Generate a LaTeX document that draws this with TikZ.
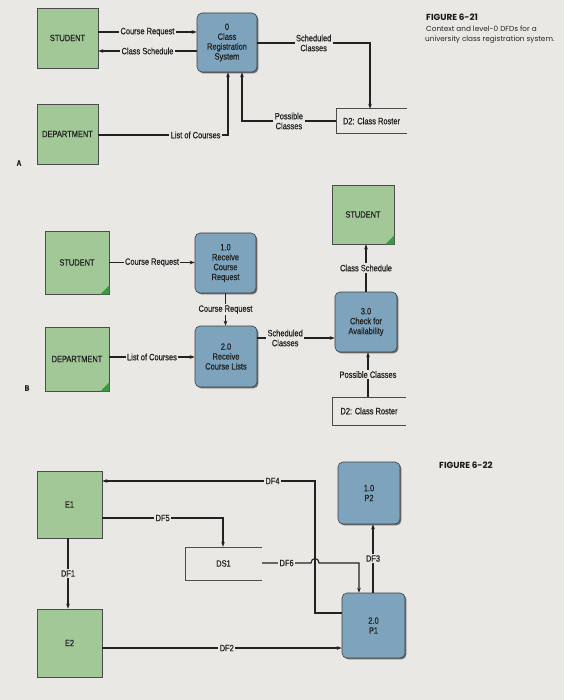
\documentclass[tikz,border=0pt]{standalone}
\usepackage{fontspec}
\setmainfont{Liberation Sans}[FakeStretch=0.82,FakeBold=0.6]
\newfontfamily\capfont{Poppins}
\usetikzlibrary{shadows,arrows.meta}
\definecolor{bgc}{HTML}{E9E8E4}
\definecolor{entc}{HTML}{A2C897}
\definecolor{procc}{HTML}{7DA4BC}
\definecolor{dkgreen}{HTML}{3C9A47}
\definecolor{ink}{HTML}{222222}
\begin{document}
\begin{tikzpicture}[x=1pt,y=-1pt,
  every node/.style={font=\fontsize{9.1}{9.9}\selectfont, text=ink},
  ent/.style={draw=black!70, line width=0.6pt, fill=entc, minimum width=62pt, minimum height=61pt, inner sep=0pt,
     drop shadow={shadow xshift=1.4pt, shadow yshift=-1.4pt, fill=black!65, opacity=0.85}},
  proc/.style={draw=black!75, line width=0.6pt, fill=procc, rounded corners=5pt, minimum width=61pt, minimum height=60pt,
     align=center, inner sep=0pt,
     drop shadow={shadow xshift=1.4pt, shadow yshift=-1.4pt, fill=black!65, opacity=0.85}},
  store/.style={minimum width=74pt, minimum height=27pt, inner sep=0pt},
  storeline/.style={draw=black!70, line width=0.6pt},
  flow/.style={draw=ink, line width=1.1pt},
  arr/.style={flow, -{Stealth[length=5pt,width=3.6pt]}},
  lbl/.style={fill=bgc, inner sep=1.5pt, align=center},
  captxt/.style={font=\capfont\fontsize{7.3}{8}\selectfont, anchor=west, inner sep=0pt, text=black!85},
  captitle/.style={font=\capfont\bfseries\fontsize{8.8}{9}\selectfont, anchor=west, inner sep=0pt, text=black!90},
  greencorner/.style={fill=dkgreen},
  partlbl/.style={font=\bfseries\fontsize{8}{9}\selectfont}
]
\fill[bgc] (0,0) rectangle (564,700);
\useasboundingbox (0,0) rectangle (564,700);

% ---------------- Captions
\node[captitle] (c1) at (426,17) {FIGURE 6-21};
\node[captxt] (c2) at (426,29) {Context and level-0 DFDs for a};
\node[captxt] (c3) at (425,39.5) {university class registration system.};
\node[captitle] (c4) at (439,465) {FIGURE 6-22};
\node[partlbl] (la) at (19,163) {A};
\node[partlbl] (lb) at (27,388) {B};

% ---------------- Part A
\node[ent, minimum width=61pt, minimum height=60pt] (sA) at (67.5,38) {STUDENT};
\node[ent, minimum width=61pt, minimum height=60pt] (dA) at (67.5,134) {DEPARTMENT};
\node[proc, minimum width=60pt, minimum height=59pt] (p0) at (227,42.5) {0\\Class\\Registration\\System};
\node[store, minimum width=71pt, minimum height=24pt] (d2A) at (371.5,121) {D2: Class Roster};
\draw[storeline] (d2A.north east) -- (d2A.north west) -- (d2A.south west) -- (d2A.south east);

\coordinate (a1) at (0,32);
\coordinate (a2) at (0,51);
\coordinate (a3) at (0,43);
\coordinate (a4) at (370,0);
\coordinate (a5) at (242,0);
\coordinate (a6) at (228,135);

\draw[arr] (sA.east |- a1) -- node[lbl]{Course Request} (p0.west |- a1);
\draw[arr] (p0.west |- a2) -- node[lbl]{Class Schedule} (sA.east |- a2);
\draw[arr] (p0.east |- a3) -- node[lbl]{Scheduled\\Classes} (a4 |- a3) -- (d2A.north -| a4);
\draw[arr] (d2A.west) -- node[lbl]{Possible\\Classes} (a5 |- d2A.west) -- (p0.south -| a5);
\draw[arr] (dA.east |- a6) -- node[lbl, pos=0.75]{List of Courses} (a6) -- (p0.south -| a6);

% ---------------- Part B
\node[ent, minimum width=64pt, minimum height=63pt] (sB) at (77,262.5) {STUDENT};
\node[ent, minimum width=64pt, minimum height=64pt] (dB) at (77,359) {DEPARTMENT};
\node[proc, minimum width=61pt, minimum height=60pt] (p1) at (225.5,263) {1.0\\Receive\\Course\\Request};
\node[proc, minimum width=62pt, minimum height=61pt] (p2) at (226,356.5) {2.0\\Receive\\Course Lists};
\node[proc, minimum width=62pt, minimum height=60pt] (p3) at (366,322) {3.0\\Check for\\Availability};
\node[ent, minimum width=62pt, minimum height=59pt] (s2B) at (363,214.5) {STUDENT};
\node[store, minimum width=74pt, minimum height=28pt] (d2B) at (369,411) {D2: Class Roster};
\draw[storeline] (d2B.north east) -- (d2B.north west) -- (d2B.south west) -- (d2B.south east);

\fill[greencorner] (sB.south east) -- ++(-9,0) -- ++(9,-9) -- cycle;
\fill[greencorner] (dB.south east) -- ++(-9,0) -- ++(9,-9) -- cycle;
\fill[greencorner] (s2B.south east) -- ++(-9,0) -- ++(9,-9) -- cycle;

\coordinate (b1) at (0,357);
\coordinate (b2) at (0,338);
\coordinate (b3) at (368,0);

\draw[arr] (sB.east) -- node[lbl]{Course Request} (p1.west |- sB.east);
\draw[arr] (dB.east |- b1) -- node[lbl]{List of Courses} (p2.west |- b1);
\draw[arr] (p1.south) -- node[lbl]{Course Request} (p1.south |- p2.north);
\draw[arr] (p2.east |- b2) -- node[lbl, pos=0.36]{Scheduled\\Classes} (p3.west |- b2);
\draw[arr] (p3.north) -- node[lbl]{Class Schedule} (p3.north |- s2B.south);
\draw[arr] (d2B.north -| b3) -- node[lbl]{Possible Classes} (p3.south -| b3);

% ---------------- Part C
\node[ent, minimum width=65pt, minimum height=67pt] (e1) at (69.5,504.5) {E1};
\node[ent, minimum width=65pt, minimum height=68pt] (e2) at (69.5,643) {E2};
\node[proc, minimum width=62pt, minimum height=62pt] (pp2) at (369,493) {1.0\\P2};
\node[proc, minimum width=63pt, minimum height=65pt] (pp1) at (373.5,625.5) {2.0\\P1};
\node[store, minimum width=77pt, minimum height=33pt] (ds1) at (223.5,563.5) {DS1};
\draw[storeline] (ds1.north east) -- (ds1.north west) -- (ds1.south west) -- (ds1.south east);

\coordinate (c4a) at (315,613);
\coordinate (c4b) at (315,481);
\coordinate (c5) at (223,518);
\coordinate (c1x) at (68,0);
\coordinate (h1) at (311,563);
\coordinate (h2) at (319,563);
\coordinate (c6) at (359,563);
\coordinate (c3x) at (373,0);
\coordinate (c2y) at (0,648);

\draw[arr] (pp1.west |- c4a) -- (c4a) -- (c4b) -- node[lbl, pos=0.2]{DF4} (e1.east |- c4b);
\draw[arr] (e1.east |- c5) -- node[lbl, pos=0.5]{DF5} (c5) -- (ds1.north -| c5);
\draw[arr] (e1.south -| c1x) -- node[lbl]{DF1} (e2.north -| c1x);
\draw[arr] (ds1.east |- h1) -- node[lbl]{DF6} (h1) .. controls (311,557) and (319,557) .. (h2) -- (c6) -- (pp1.north -| c6);
\draw[arr] (pp1.north -| c3x) -- node[lbl]{DF3} (pp2.south -| c3x);
\draw[arr] (e2.east |- c2y) -- node[lbl, pos=0.52]{DF2} (pp1.west |- c2y);
\end{tikzpicture}
\end{document}
